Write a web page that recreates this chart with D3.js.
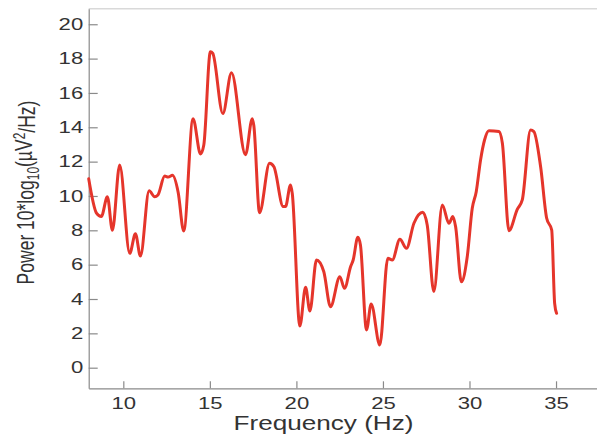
<!DOCTYPE html>
<html>
<head>
<meta charset="utf-8">
<script src="https://cdn.jsdelivr.net/npm/d3@7"></script>
<style>
  body { margin: 0; background: #fff; }
  svg { display: block; font-family: "Liberation Sans", Arial, sans-serif; }
</style>
</head>
<body>
<div id="chart"></div>
<script>
// spectrum
const freqHz = [8.0, 8.45, 8.73, 9.08, 9.37, 9.79, 10.37, 10.7, 10.99, 11.49, 11.81, 12.0,
  12.39, 12.59, 12.84, 13.17, 13.49, 14.03, 14.46, 14.65, 15.03, 15.17, 15.75, 16.25,
  17.06, 17.45, 17.54, 17.87, 18.45, 18.7, 19.24, 19.37, 19.66, 19.76, 20.2, 20.53,
  20.78, 21.16, 21.58, 21.97, 22.51, 22.78, 23.13, 23.28, 23.55, 23.7, 24.05, 24.32,
  24.82, 25.28, 25.54, 25.98, 26.36, 26.79, 27.3, 27.56, 27.94, 28.43, 28.81, 29.04,
  29.2, 29.53, 29.87, 30.16, 30.39, 30.64, 30.87, 31.12, 31.7, 31.9, 32.28, 32.76,
  33.05, 33.53, 33.72, 34.11, 34.46, 34.75, 34.92, 35.03];
const powerDb = [11.0, 9.0, 8.8, 9.96, 8.0, 11.8, 6.66, 7.8, 6.5, 10.3, 9.96, 10.06,
  11.16, 11.1, 11.2, 10.2, 7.96, 14.5, 12.45, 12.97, 18.4, 18.3, 14.8, 17.18,
  12.4, 14.5, 14.1, 9.03, 11.9, 11.7, 9.38, 9.38, 10.64, 10.16, 2.43, 4.68,
  3.3, 6.27, 5.6, 3.55, 5.3, 4.62, 5.88, 6.27, 7.6, 7.15, 2.2, 3.71,
  1.32, 6.37, 6.27, 7.48, 6.95, 8.41, 9.05, 8.3, 4.43, 9.48, 8.41, 8.8,
  8.2, 5.0, 6.46, 9.28, 10.25, 12.1, 13.26, 13.8, 13.75, 13.07, 7.98, 9.22,
  9.77, 13.84, 13.75, 11.7, 8.7, 8.02, 3.75, 3.17];

const xTicks = [10, 15, 20, 25, 30, 35];
const yTicks = [0, 2, 4, 6, 8, 10, 12, 14, 16, 18, 20];

const width = 597, height = 436;
const stretch = 1.34;   // the picture is wider than tall, text included

const data = freqHz.map((f, i) => ({ f, p: powerDb[i] }));

const svg = d3.select("#chart").append("svg")
  .attr("width", width)
  .attr("height", height);

const x = d3.scaleLinear().domain([8, 37.5]).range([88.7, 599.3]);
const y = d3.scaleLinear().domain([-1.2, 20.9]).range([388.3, 8.8]);

// top frame line
svg.append("line")
  .attr("x1", x(8)).attr("x2", width)
  .attr("y1", y(20.9)).attr("y2", y(20.9))
  .attr("stroke", "#d9d9d9")
  .attr("stroke-width", 1.5);

// axes
const xAxis = svg.append("g")
  .attr("transform", `translate(0,${y(-1.2)})`)
  .call(d3.axisBottom(x).tickValues(xTicks).tickSizeInner(-7).tickSizeOuter(0).tickPadding(8.5));

const yAxis = svg.append("g")
  .attr("transform", `translate(${x(8)},0)`)
  .call(d3.axisLeft(y).tickValues(yTicks).tickSizeInner(-9).tickSizeOuter(0).tickPadding(5.5));

[xAxis, yAxis].forEach(g => {
  g.select(".domain").attr("stroke", "#8a8a8a").attr("stroke-width", 1.2);
  g.selectAll(".tick line").attr("stroke", "#8a8a8a").attr("stroke-width", 1.2);
  g.selectAll(".tick text")
    .attr("fill", "#333")
    .style("font-size", "16.5px")
    .style("font-family", "'Liberation Sans', Arial, sans-serif");
});

xAxis.selectAll(".tick text").each(function () {
  const t = d3.select(this);
  const yy = +t.attr("y");
  t.attr("y", 0).attr("transform", `translate(0,${yy}) scale(${stretch},1)`);
});
yAxis.selectAll(".tick text").each(function () {
  const t = d3.select(this);
  const xx = +t.attr("x");
  t.attr("x", 0).attr("transform", `translate(${xx},0) scale(${stretch},1)`);
});

// spectrum line
const line = d3.line()
  .x(d => x(d.f))
  .y(d => y(d.p))
  .curve(d3.curveMonotoneX);

svg.append("path")
  .datum(data)
  .attr("fill", "none")
  .attr("stroke", "#e5352b")
  .attr("stroke-width", 3)
  .attr("stroke-linejoin", "round")
  .attr("stroke-linecap", "round")
  .attr("d", line);

// axis labels
svg.append("text")
  .attr("transform", `translate(323.5,430) scale(${stretch},1)`)
  .attr("text-anchor", "middle")
  .attr("fill", "#333")
  .style("font-size", "19.5px")
  .text("Frequency (Hz)");

const yl = svg.append("text")
  .attr("transform", `translate(34,192.5) rotate(-90) scale(1,${stretch})`)
  .attr("text-anchor", "middle")
  .attr("fill", "#333")
  .style("font-size", "17.5px");
yl.append("tspan").text("Power 10*log");
yl.append("tspan").attr("dy", "0.3em").style("font-size", "12px").text("10");
yl.append("tspan").attr("dy", "-0.3em").text("(µV");
yl.append("tspan").attr("dy", "-0.45em").style("font-size", "12px").text("2");
yl.append("tspan").attr("dy", "0.45em").text("/Hz)");
</script>
</body>
</html>
